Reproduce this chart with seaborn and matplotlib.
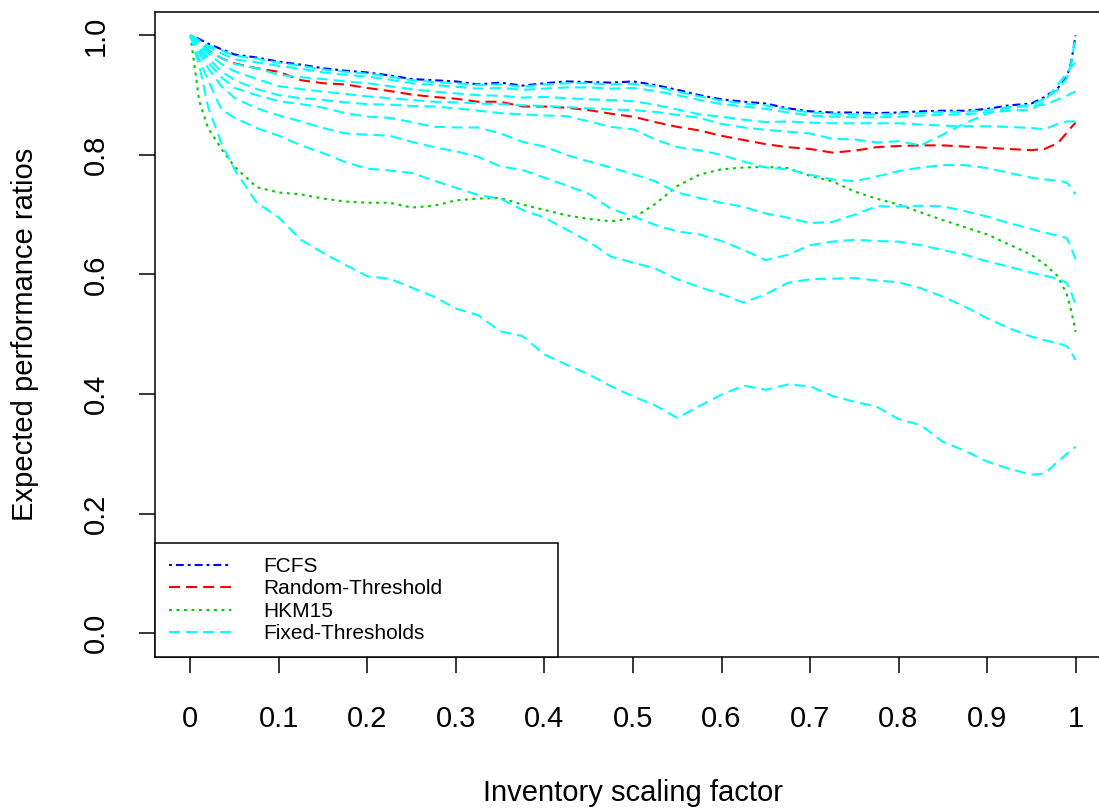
import matplotlib
matplotlib.use("Agg")
import matplotlib.pyplot as plt
import seaborn as sns

# ---------------- data ----------------
x_grid = [0, 0.01, 0.02, 0.035, 0.05, 0.075, 0.1, 0.125, 0.15, 0.175,
          0.2, 0.225, 0.25, 0.275, 0.3, 0.325, 0.35, 0.375, 0.4, 0.425,
          0.45, 0.475, 0.5, 0.525, 0.55, 0.575, 0.6, 0.625, 0.65, 0.675,
          0.7, 0.725, 0.75, 0.775, 0.8, 0.825, 0.85, 0.875, 0.9, 0.925,
          0.95, 0.965, 0.98, 0.99, 0.995, 1.0]

fcfs = [1.0, 0.994, 0.986, 0.977, 0.968, 0.963, 0.956, 0.951, 0.945, 0.941,
        0.938, 0.933, 0.927, 0.925, 0.923, 0.918, 0.921, 0.916, 0.920, 0.923,
        0.922, 0.921, 0.923, 0.917, 0.909, 0.900, 0.893, 0.889, 0.886, 0.878,
        0.873, 0.871, 0.871, 0.870, 0.871, 0.873, 0.874, 0.874, 0.877, 0.883,
        0.886, 0.897, 0.912, 0.930, 0.955, 1.0]

random_threshold = [1.0, 0.990, 0.975, 0.962, 0.953, 0.945, 0.939, 0.925, 0.920, 0.918,
                    0.912, 0.907, 0.901, 0.897, 0.894, 0.889, 0.889, 0.881, 0.881, 0.879,
                    0.875, 0.869, 0.864, 0.855, 0.847, 0.841, 0.832, 0.825, 0.818, 0.813,
                    0.810, 0.804, 0.807, 0.813, 0.815, 0.816, 0.816, 0.814, 0.812, 0.810,
                    0.808, 0.810, 0.820, 0.837, 0.846, 0.854]

hkm15 = [1.0, 0.890, 0.845, 0.810, 0.780, 0.746, 0.737, 0.734, 0.727, 0.722,
         0.720, 0.720, 0.712, 0.715, 0.724, 0.727, 0.728, 0.717, 0.708, 0.699,
         0.693, 0.689, 0.694, 0.718, 0.748, 0.767, 0.776, 0.779, 0.780, 0.778,
         0.765, 0.756, 0.739, 0.727, 0.717, 0.704, 0.691, 0.679, 0.667, 0.650,
         0.633, 0.617, 0.597, 0.567, 0.540, 0.504]

fixed_a = [1.0, 0.992, 0.983, 0.975, 0.966, 0.961, 0.954, 0.949, 0.943, 0.939,
           0.936, 0.931, 0.925, 0.922, 0.920, 0.917, 0.918, 0.914, 0.918, 0.920,
           0.920, 0.918, 0.919, 0.915, 0.906, 0.898, 0.891, 0.886, 0.883, 0.876,
           0.871, 0.869, 0.868, 0.868, 0.869, 0.870, 0.872, 0.872, 0.875, 0.880,
           0.884, 0.894, 0.909, 0.928, 0.953, 0.998]

fixed_b = [1.0, 0.990, 0.980, 0.970, 0.960, 0.955, 0.949, 0.944, 0.938, 0.934,
           0.931, 0.926, 0.920, 0.917, 0.914, 0.911, 0.912, 0.909, 0.911, 0.913,
           0.913, 0.911, 0.912, 0.907, 0.900, 0.892, 0.885, 0.881, 0.877, 0.871,
           0.866, 0.864, 0.863, 0.863, 0.864, 0.866, 0.867, 0.868, 0.871, 0.874,
           0.876, 0.890, 0.918, 0.937, 0.947, 0.956]

fixed_c = [1.0, 0.985, 0.970, 0.952, 0.940, 0.927, 0.915, 0.910, 0.906, 0.902,
           0.898, 0.895, 0.892, 0.889, 0.888, 0.886, 0.885, 0.883, 0.882, 0.880,
           0.878, 0.876, 0.875, 0.872, 0.867, 0.862, 0.852, 0.846, 0.842, 0.839,
           0.836, 0.827, 0.826, 0.821, 0.823, 0.816, 0.834, 0.853, 0.869, 0.879,
           0.882, 0.884, 0.893, 0.899, 0.903, 0.906]

fixed_d = [1.0, 0.988, 0.975, 0.962, 0.952, 0.945, 0.934, 0.930, 0.927, 0.923,
           0.920, 0.915, 0.910, 0.906, 0.903, 0.900, 0.899, 0.896, 0.897, 0.895,
           0.893, 0.892, 0.890, 0.884, 0.876, 0.868, 0.864, 0.859, 0.855, 0.856,
           0.854, 0.853, 0.853, 0.853, 0.853, 0.851, 0.849, 0.848, 0.848, 0.847,
           0.845, 0.843, 0.852, 0.856, 0.856, 0.856]

fixed_e = [1.0, 0.982, 0.962, 0.940, 0.925, 0.910, 0.900, 0.895, 0.892, 0.888,
           0.885, 0.884, 0.882, 0.881, 0.878, 0.874, 0.870, 0.868, 0.866, 0.865,
           0.856, 0.847, 0.843, 0.826, 0.813, 0.808, 0.800, 0.789, 0.779, 0.776,
           0.767, 0.759, 0.756, 0.764, 0.773, 0.779, 0.783, 0.783, 0.778, 0.770,
           0.762, 0.759, 0.757, 0.754, 0.745, 0.734]

fixed_f = [1.0, 0.978, 0.955, 0.930, 0.912, 0.900, 0.890, 0.885, 0.879, 0.870,
           0.864, 0.862, 0.855, 0.847, 0.846, 0.846, 0.836, 0.822, 0.814, 0.800,
           0.789, 0.779, 0.768, 0.756, 0.737, 0.728, 0.720, 0.713, 0.702, 0.695,
           0.686, 0.688, 0.700, 0.714, 0.714, 0.715, 0.714, 0.706, 0.697, 0.686,
           0.676, 0.670, 0.665, 0.661, 0.645, 0.625]

fixed_g = [1.0, 0.972, 0.945, 0.915, 0.895, 0.878, 0.866, 0.856, 0.845, 0.836,
           0.834, 0.832, 0.822, 0.813, 0.806, 0.797, 0.781, 0.775, 0.762, 0.749,
           0.735, 0.710, 0.697, 0.683, 0.672, 0.667, 0.656, 0.641, 0.624, 0.633,
           0.649, 0.655, 0.658, 0.656, 0.655, 0.649, 0.641, 0.633, 0.622, 0.613,
           0.603, 0.598, 0.593, 0.586, 0.570, 0.550]

fixed_h = [1.0, 0.960, 0.925, 0.876, 0.862, 0.845, 0.832, 0.816, 0.803, 0.788,
           0.777, 0.774, 0.770, 0.757, 0.745, 0.733, 0.727, 0.708, 0.695, 0.675,
           0.655, 0.630, 0.620, 0.610, 0.592, 0.579, 0.567, 0.553, 0.567, 0.586,
           0.592, 0.593, 0.594, 0.590, 0.587, 0.577, 0.563, 0.546, 0.527, 0.510,
           0.496, 0.490, 0.485, 0.480, 0.470, 0.457]

fixed_i = [1.0, 0.950, 0.880, 0.820, 0.775, 0.720, 0.695, 0.658, 0.636, 0.616,
           0.597, 0.593, 0.578, 0.563, 0.543, 0.532, 0.505, 0.497, 0.466, 0.449,
           0.433, 0.413, 0.396, 0.381, 0.360, 0.380, 0.399, 0.414, 0.407, 0.416,
           0.413, 0.397, 0.387, 0.379, 0.358, 0.348, 0.320, 0.305, 0.287, 0.275,
           0.265, 0.267, 0.287, 0.300, 0.306, 0.312]

fixed_thresholds = [fixed_a, fixed_b, fixed_c, fixed_d, fixed_e,
                    fixed_f, fixed_g, fixed_h, fixed_i]

series_labels = ["FCFS", "Random-Threshold", "HKM15", "Fixed-Thresholds"]

x_ticks = [0, 0.1, 0.2, 0.3, 0.4, 0.5, 0.6, 0.7, 0.8, 0.9, 1.0]
x_tick_labels = ["0", "0.1", "0.2", "0.3", "0.4", "0.5", "0.6", "0.7", "0.8", "0.9", "1"]
y_ticks = [0.0, 0.2, 0.4, 0.6, 0.8, 1.0]
y_tick_labels = ["0.0", "0.2", "0.4", "0.6", "0.8", "1.0"]

x_label = "Inventory scaling factor"
y_label = "Expected performance ratios"

# ---------------- style ----------------
sns.set_style("white")
plt.rcParams['font.family'] = ['Liberation Sans', 'DejaVu Sans']

BLUE = "#0000FF"
RED = "#FF0000"
GREEN = "#00CD00"
CYAN = "#00FFFF"
LW = 1.5

ls_dashed = (0, (5.3, 2.9))
ls_dotted = (0, (1.4, 2.2))
ls_dotdash = (0, (1.4, 1.9, 3.8, 1.9))

fig = plt.figure(figsize=(10.99, 8.08), dpi=100)
ax = fig.add_axes([155 / 1099, (808 - 657) / 808, (1111 - 155) / 1099, (657 - 11.5) / 808])

sns.lineplot(x=x_grid, y=fcfs, ax=ax, color=BLUE, linestyle=ls_dotdash,
             linewidth=LW, estimator=None, sort=False, label=series_labels[0])
sns.lineplot(x=x_grid, y=random_threshold, ax=ax, color=RED, linestyle=ls_dashed,
             linewidth=LW, estimator=None, sort=False, label=series_labels[1])
sns.lineplot(x=x_grid, y=hkm15, ax=ax, color=GREEN, linestyle=ls_dotted,
             linewidth=LW, estimator=None, sort=False, label=series_labels[2])
for i, vals in enumerate(fixed_thresholds):
    sns.lineplot(x=x_grid, y=vals, ax=ax, color=CYAN, linestyle=ls_dashed,
                 linewidth=LW, estimator=None, sort=False,
                 label=series_labels[3] if i == 0 else "_nolegend_")

ax.set_xlim(-0.04, 1.04)
ax.set_ylim(-0.04, 1.04)
ax.set_xticks(x_ticks)
ax.set_xticklabels(x_tick_labels)
ax.set_yticks(y_ticks)
ax.set_yticklabels(y_tick_labels, rotation=90, va="center")

ax.tick_params(axis="x", which="major", direction="out", length=11.5, width=1.1,
               color="black", labelsize=21, labelcolor="black", pad=23,
               bottom=True, top=False)
ax.tick_params(axis="y", which="major", direction="out", length=11.5, width=1.1,
               color="black", labelsize=21, labelcolor="black", pad=21,
               left=True, right=False)
ax.set_xlabel(x_label, fontsize=21, color="black", labelpad=33)
ax.set_ylabel(y_label, fontsize=21, color="black", labelpad=31)

for sp in ax.spines.values():
    sp.set_visible(True)
    sp.set_color("black")
    sp.set_linewidth(1.1)
ax.grid(False)

handles, labels = ax.get_legend_handles_labels()
leg = ax.legend(handles, labels, loc="lower left",
                bbox_to_anchor=(0, 0, (558 - 155) / (1111 - 155), 0.2),
                mode="expand", borderaxespad=0, fontsize=15, frameon=True,
                fancybox=False, edgecolor="black", framealpha=1,
                handlelength=3.0, handletextpad=1.55, labelspacing=0.17,
                borderpad=0.65)
leg.get_frame().set_linewidth(1.1)
for t in leg.get_texts():
    t.set_color("black")

fig.savefig("out.png", dpi=100)
